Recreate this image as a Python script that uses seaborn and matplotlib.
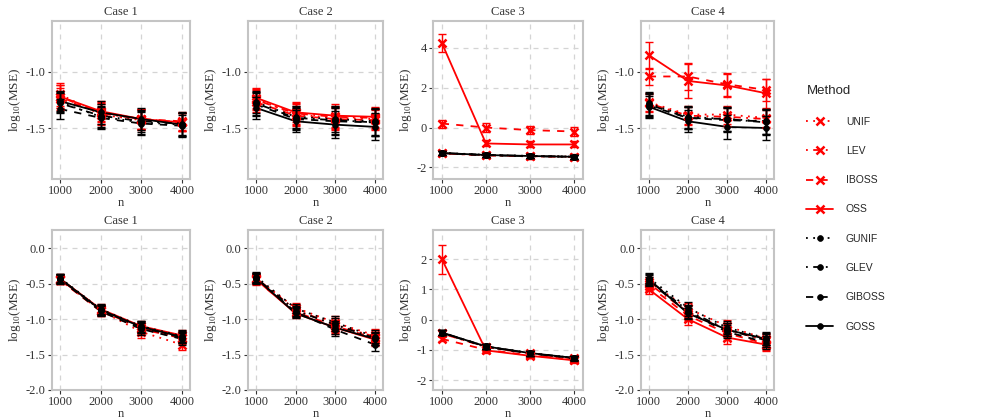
import numpy as np
import pandas as pd
import matplotlib
matplotlib.use("Agg")
import matplotlib.pyplot as plt
from matplotlib.lines import Line2D
import seaborn as sns

sns.set_theme(style="white")
plt.rcParams["font.family"] = ["Liberation Serif", "DejaVu Serif"]
plt.rcParams["axes.unicode_minus"] = False
plt.rcParams["mathtext.fontset"] = "custom"
plt.rcParams["mathtext.rm"] = "Liberation Serif"

# ---------------- data ----------------
n_values = [1000, 2000, 3000, 4000]
methods = ["UNIF", "LEV", "IBOSS", "OSS", "GUNIF", "GLEV", "GIBOSS", "GOSS"]
cases = ["Case 1", "Case 2", "Case 3", "Case 4"]

# rows follow `methods`, columns follow `n_values`
top_case1 = [[-1.20, -1.38, -1.43, -1.45],
             [-1.22, -1.37, -1.42, -1.45],
             [-1.24, -1.36, -1.42, -1.44],
             [-1.22, -1.35, -1.42, -1.45],
             [-1.27, -1.40, -1.45, -1.47],
             [-1.28, -1.39, -1.44, -1.46],
             [-1.33, -1.41, -1.46, -1.48],
             [-1.26, -1.36, -1.42, -1.47]]
top_case2 = [[-1.24, -1.38, -1.41, -1.42],
             [-1.25, -1.37, -1.40, -1.41],
             [-1.27, -1.39, -1.42, -1.43],
             [-1.23, -1.36, -1.39, -1.40],
             [-1.27, -1.40, -1.42, -1.44],
             [-1.28, -1.41, -1.43, -1.45],
             [-1.29, -1.42, -1.44, -1.45],
             [-1.32, -1.44, -1.47, -1.49]]
top_case3 = [[-1.30, -1.39, -1.44, -1.47],
             [-1.30, -1.40, -1.45, -1.48],
             [0.20, 0.00, -0.13, -0.20],
             [4.25, -0.80, -0.85, -0.85],
             [-1.27, -1.37, -1.43, -1.46],
             [-1.28, -1.38, -1.43, -1.46],
             [-1.29, -1.39, -1.44, -1.47],
             [-1.28, -1.38, -1.43, -1.47]]
top_case4 = [[-1.27, -1.38, -1.38, -1.41],
             [-1.28, -1.39, -1.40, -1.42],
             [-1.04, -1.04, -1.11, -1.16],
             [-0.85, -1.08, -1.12, -1.19],
             [-1.28, -1.40, -1.42, -1.44],
             [-1.29, -1.41, -1.42, -1.45],
             [-1.30, -1.41, -1.43, -1.44],
             [-1.31, -1.44, -1.49, -1.50]]
bottom_case1 = [[-0.45, -0.88, -1.18, -1.36],
                [-0.44, -0.87, -1.14, -1.27],
                [-0.45, -0.89, -1.13, -1.26],
                [-0.43, -0.86, -1.10, -1.23],
                [-0.42, -0.86, -1.10, -1.24],
                [-0.43, -0.87, -1.12, -1.26],
                [-0.44, -0.89, -1.14, -1.28],
                [-0.43, -0.87, -1.11, -1.25]]
bottom_case2 = [[-0.43, -0.84, -1.05, -1.23],
                [-0.42, -0.87, -1.08, -1.25],
                [-0.45, -0.90, -1.10, -1.27],
                [-0.44, -0.92, -1.12, -1.29],
                [-0.40, -0.85, -1.05, -1.25],
                [-0.42, -0.88, -1.08, -1.27],
                [-0.43, -0.90, -1.15, -1.36],
                [-0.42, -0.92, -1.12, -1.28]]
bottom_case3 = [[-0.45, -0.90, -1.12, -1.28],
                [-0.46, -0.91, -1.13, -1.29],
                [-0.64, -1.00, -1.18, -1.33],
                [2.00, -1.02, -1.20, -1.35],
                [-0.43, -0.89, -1.11, -1.27],
                [-0.43, -0.89, -1.11, -1.27],
                [-0.44, -0.90, -1.12, -1.28],
                [-0.43, -0.89, -1.11, -1.27]]
bottom_case4 = [[-0.47, -0.85, -1.10, -1.28],
                [-0.50, -0.90, -1.15, -1.30],
                [-0.53, -0.95, -1.20, -1.35],
                [-0.58, -1.00, -1.26, -1.36],
                [-0.42, -0.84, -1.12, -1.27],
                [-0.45, -0.88, -1.15, -1.30],
                [-0.47, -0.90, -1.18, -1.33],
                [-0.44, -0.92, -1.15, -1.28]]

# half-widths of error bars (same layout)
top_err1 = [[0.10, 0.09, 0.09, 0.08]] * 4 + [[0.09, 0.10, 0.10, 0.10]] * 4
top_err2 = [[0.09, 0.09, 0.10, 0.09]] * 4 + [[0.10, 0.10, 0.12, 0.12]] * 4
top_err3 = [[0.10, 0.10, 0.12, 0.12],
            [0.10, 0.10, 0.12, 0.12],
            [0.20, 0.22, 0.22, 0.22],
            [0.47, 0.15, 0.15, 0.15]] + [[0.10, 0.10, 0.10, 0.10]] * 4
top_err4 = [[0.08, 0.08, 0.08, 0.08],
            [0.08, 0.08, 0.08, 0.08],
            [0.08, 0.12, 0.10, 0.10],
            [0.12, 0.15, 0.10, 0.13]] + [[0.10, 0.10, 0.11, 0.11]] * 4
bottom_err1 = [[0.06, 0.07, 0.08, 0.08]] * 8
bottom_err2 = [[0.07, 0.07, 0.09, 0.09]] * 8
bottom_err3 = [[0.08, 0.08, 0.08, 0.08],
               [0.08, 0.08, 0.08, 0.08],
               [0.08, 0.08, 0.08, 0.08],
               [0.48, 0.08, 0.08, 0.08]] + [[0.08, 0.08, 0.08, 0.08]] * 4
bottom_err4 = [[0.07, 0.08, 0.09, 0.09]] * 8

top_means = [top_case1, top_case2, top_case3, top_case4]
top_errs = [top_err1, top_err2, top_err3, top_err4]
bottom_means = [bottom_case1, bottom_case2, bottom_case3, bottom_case4]
bottom_errs = [bottom_err1, bottom_err2, bottom_err3, bottom_err4]

top_yticks = [[-1.5, -1.0], [-1.5, -1.0], [-2, 0, 2, 4], [-1.5, -1.0]]
bottom_yticks = [[-2.0, -1.5, -1.0, -0.5, 0.0]] * 2 + [[-2, -1, 0, 1, 2]] + [[-2.0, -1.5, -1.0, -0.5, 0.0]]
top_ylims = [(-1.955, -0.545), (-1.955, -0.545), (-2.585, 5.35), (-1.955, -0.545)]
bottom_ylims = [(-2.0, 0.257), (-2.0, 0.257), (-2.33, 2.96), (-2.0, 0.257)]

# ---------------- styles ----------------
palette = {m: ("#FF0000" if i < 4 else "#000000") for i, m in enumerate(methods)}
dash_cycle = [(1, 3), (1, 3, 4, 3), (4, 4), ""]
dashes = {m: dash_cycle[i % 4] for i, m in enumerate(methods)}
marker_of = {m: ("x" if i < 4 else "o") for i, m in enumerate(methods)}

W, H = 981, 420
fig = plt.figure(figsize=(W / 100, H / 100), dpi=100)

cols_px = [(52, 190), (248, 383), (433, 583), (641, 774)]
rows_px = [(21, 179), (230, 390)]


def draw_panel(ax, means, errs, title, yticks, ylim):
    rows = []
    for mi, m in enumerate(methods):
        for ni, n in enumerate(n_values):
            rows.append({"n": n, "val": means[mi][ni], "err": errs[mi][ni], "Method": m})
    df = pd.DataFrame(rows)
    sns.lineplot(data=df, x="n", y="val", hue="Method", style="Method",
                 hue_order=methods, style_order=methods, palette=palette,
                 dashes=dashes, markers=False, errorbar=None, legend=False,
                 linewidth=1.3, ax=ax, sort=False)
    for m in methods:
        sub = df[df["Method"] == m]
        red = palette[m] != "#000000"
        ax.errorbar(sub["n"], sub["val"], yerr=sub["err"], fmt="none",
                    ecolor=palette[m], elinewidth=1.0, capsize=3, capthick=1.0)
        ax.plot(sub["n"], sub["val"], linestyle="none", marker=marker_of[m],
                color=palette[m], markersize=6 if red else 4.2,
                markeredgewidth=1.8 if red else 0.5)
    ax.set_xlim(800, 4200)
    ax.set_ylim(*ylim)
    ax.set_xticks(n_values)
    ax.set_xticklabels([str(n) for n in n_values], fontsize=9)
    ax.set_yticks(yticks)
    integer = all(float(t).is_integer() for t in yticks) and (max(yticks) - min(yticks)) >= 4
    ax.set_yticklabels([f"{int(t)}" if integer else f"{t:.1f}" for t in yticks], fontsize=9)
    ax.set_title(title, fontsize=9, color="#333333", pad=4)
    ax.set_xlabel("n", fontsize=9, labelpad=0, color="#333333")
    ax.set_ylabel(r"$\mathrm{log}_{10}$(MSE)", fontsize=9.5, color="#333333", labelpad=2)
    ax.grid(True, color="#d4d4d4", linestyle=(0, (4, 4)), linewidth=0.9)
    ax.set_axisbelow(True)
    for s in ax.spines.values():
        s.set_color("#c4c4c4")
        s.set_linewidth(1.5)
    ax.tick_params(axis="both", direction="out", length=3, width=0.8,
                   color="#333333", labelcolor="#333333", pad=1.5,
                   bottom=True, left=True)


for r, (ytop, ybot) in enumerate(rows_px):
    data_row = top_means if r == 0 else bottom_means
    err_row = top_errs if r == 0 else bottom_errs
    yt_row = top_yticks if r == 0 else bottom_yticks
    yl_row = top_ylims if r == 0 else bottom_ylims
    for c, (xl, xr) in enumerate(cols_px):
        ax = fig.add_axes([xl / W, 1 - ybot / H, (xr - xl) / W, (ybot - ytop) / H])
        draw_panel(ax, data_row[c], err_row[c], cases[c], yt_row[c], yl_row[c])

handles = []
for i, m in enumerate(methods):
    red = i < 4
    d = dashes[m]
    ls = "-" if d == "" else (0, d)
    handles.append(Line2D([0], [0], color=palette[m], linestyle=ls, linewidth=1.3,
                          marker=marker_of[m], markersize=6 if red else 4.2,
                          markeredgewidth=1.8 if red else 0.5))
leg = fig.legend(handles, methods, title="Method", loc="upper left",
                 bbox_to_anchor=(797 / W, 1 - 76 / H), frameon=False,
                 prop={"family": ["Liberation Sans", "DejaVu Sans"], "size": 7.5},
                 title_fontproperties={"family": ["Liberation Sans", "DejaVu Sans"], "size": 9.5},
                 labelspacing=1.85, handlelength=2.6, handletextpad=1.2,
                 alignment="left")

fig.savefig("out.png", dpi=100)
